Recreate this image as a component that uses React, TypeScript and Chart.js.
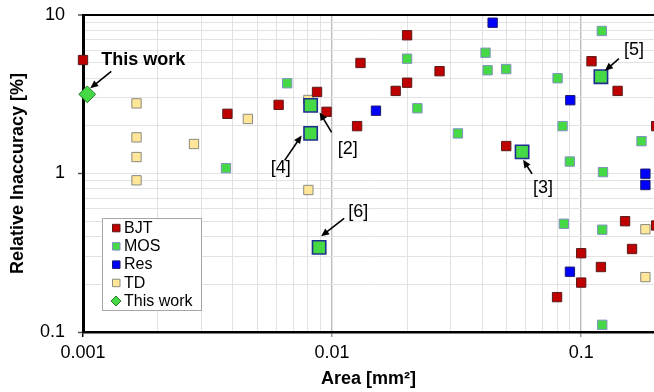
import React, { useEffect, useRef } from "react";
import { Chart, registerables } from "chart.js";

Chart.register(...registerables);

// ---------- data ----------
const bjtArea = [0.001, 0.0038, 0.0061, 0.0087, 0.0095, 0.0126, 0.013, 0.018, 0.02, 0.02, 0.027, 0.05, 0.11, 0.14, 0.2, 0.15, 0.2, 0.1, 0.16, 0.12, 0.1, 0.08];
const bjtInacc = [5.2, 2.38, 2.71, 3.27, 2.45, 1.99, 4.98, 3.32, 7.45, 3.74, 4.42, 1.49, 5.11, 3.32, 1.99, 0.5, 0.47, 0.314, 0.334, 0.257, 0.205, 0.166];

const mosArea = [0.00375, 0.0066, 0.02, 0.022, 0.032, 0.0413, 0.0421, 0.05, 0.0804, 0.0842, 0.09, 0.121, 0.1746, 0.1223, 0.0852, 0.1215, 0.1215];
const mosInacc = [1.08, 3.71, 5.3, 2.58, 1.79, 5.78, 4.48, 4.56, 3.99, 1.99, 1.19, 7.93, 1.6, 1.02, 0.482, 0.442, 0.111];

const refLabels = ["[2]", "[4]", "[6]", "[3]", "[5]"];
const refArea = [0.0082, 0.0082, 0.00887, 0.0579, 0.12];
const refInacc = [2.69, 1.79, 0.342, 1.37, 4.08];

const resArea = [0.015, 0.0441, 0.0904, 0.181, 0.181, 0.0901];
const resInacc = [2.49, 8.94, 2.9, 0.997, 0.846, 0.24];

const tdArea = [0.00164, 0.00164, 0.00164, 0.00164, 0.00279, 0.00459, 0.00803, 0.00803, 0.181, 0.181];
const tdInacc = [2.77, 1.69, 1.27, 0.906, 1.535, 2.21, 2.91, 0.787, 0.445, 0.222];

const thisWorkArea = [0.00104];
const thisWorkInacc = [3.16];

const xTickLabels = [0.001, 0.01, 0.1];
const yTickLabels = [0.1, 1, 10];
const xDecades = [0.001, 0.01, 0.1];
const yDecades = [0.1, 1];
const multipliers = [1, 2, 3, 4, 5, 6, 7, 8, 9];

const legendLabels = ["BJT", "MOS", "Res", "TD", "This work"];

// ---------- styles ----------
const FONT = "'Liberation Sans', Arial, sans-serif";
const GREEN = "#45d945";
const styles: Record<string, any> = {
  BJT: { fill: "#c00000", border: "#5a1a1a", style: "rect", r: 6.6, bw: 1 },
  MOS: { fill: GREEN, border: "#8090c0", style: "rect", r: 6.6, bw: 1 },
  Res: { fill: "#0000ff", border: "#1a1a70", style: "rect", r: 6.6, bw: 1 },
  TD: { fill: "#ffe699", border: "#8a8a80", style: "rect", r: 6.6, bw: 1 },
  Ref: { fill: GREEN, border: "#1f2f90", style: "rect", r: 9.4, bw: 1.6 },
  "This work": { fill: GREEN, border: "#2a7a2a", style: "rectRot", r: 8.4, bw: 1 },
};

const zip = (xs: number[], ys: number[]) => xs.map((x, i) => ({ x, y: ys[i] }));
const isDecade = (v: number) => Math.abs(Math.log10(v) - Math.round(Math.log10(v))) < 1e-6;

// annotation offsets relative to the referenced marker (pixels)
const annotationOffsets: Record<string, any> = {
  "This work": { tip: [3, -6], tail: [24, -23], text: [14, -34], bold: true },
  "[2]": { tip: [9, 7], tail: [21, 27], text: [27, 44] },
  "[4]": { tip: [-9, 2], tail: [-26, 27], text: [-40, 35] },
  "[6]": { tip: [2, -11], tail: [25, -29], text: [29, -35] },
  "[3]": { tip: [1, 8], tail: [10, 22], text: [11, 36] },
  "[5]": { tip: [4, -6], tail: [18, -18], text: [23, -27] },
};

function drawArrow(ctx: CanvasRenderingContext2D, x1: number, y1: number, x2: number, y2: number) {
  const ang = Math.atan2(y2 - y1, x2 - x1);
  const len = 8;
  const hw = 3.6;
  ctx.save();
  ctx.strokeStyle = "#000";
  ctx.fillStyle = "#000";
  ctx.lineWidth = 1.6;
  ctx.beginPath();
  ctx.moveTo(x1, y1);
  ctx.lineTo(x2 - Math.cos(ang) * len * 0.8, y2 - Math.sin(ang) * len * 0.8);
  ctx.stroke();
  ctx.beginPath();
  ctx.moveTo(x2, y2);
  ctx.lineTo(x2 - Math.cos(ang) * len + Math.sin(ang) * hw, y2 - Math.sin(ang) * len - Math.cos(ang) * hw);
  ctx.lineTo(x2 - Math.cos(ang) * len - Math.sin(ang) * hw, y2 - Math.sin(ang) * len + Math.cos(ang) * hw);
  ctx.closePath();
  ctx.fill();
  ctx.restore();
}

const overlayPlugin = {
  id: "overlay",
  afterDatasetsDraw(chart: any) {
    const ctx: CanvasRenderingContext2D = chart.ctx;
    const xs = chart.scales.x;
    const ys = chart.scales.y;
    const ca = chart.chartArea;

    // annotations
    const targets: { label: string; x: number; y: number }[] = [
      { label: "This work", x: thisWorkArea[0], y: thisWorkInacc[0] },
      ...refLabels.map((l, i) => ({ label: l, x: refArea[i], y: refInacc[i] })),
    ];
    targets.forEach((t) => {
      const o = annotationOffsets[t.label];
      const px = xs.getPixelForValue(t.x);
      const py = ys.getPixelForValue(t.y);
      drawArrow(ctx, px + o.tail[0], py + o.tail[1], px + o.tip[0], py + o.tip[1]);
      ctx.save();
      ctx.fillStyle = "#000";
      ctx.textAlign = "left";
      ctx.textBaseline = "middle";
      ctx.font = o.bold ? `bold 18px ${FONT}` : `18px ${FONT}`;
      ctx.fillText(t.label, px + o.text[0], py + o.text[1]);
      ctx.restore();
    });

    // legend
    const lx = ca.left + 19;
    const ly = ca.top + 203;
    const lw = 99;
    const lh = 92;
    ctx.save();
    ctx.fillStyle = "#fff";
    ctx.fillRect(lx, ly, lw, lh);
    ctx.strokeStyle = "#a6a6a6";
    ctx.lineWidth = 1;
    ctx.strokeRect(lx + 0.5, ly + 0.5, lw, lh);
    legendLabels.forEach((lab, i) => {
      const s = styles[lab];
      const cy = ly + 9.8 + i * 18.3;
      const cx = lx + 14;
      ctx.fillStyle = s.fill;
      ctx.strokeStyle = s.border;
      ctx.lineWidth = 1;
      ctx.beginPath();
      if (s.style === "rectRot") {
        ctx.moveTo(cx, cy - 5);
        ctx.lineTo(cx + 5, cy);
        ctx.lineTo(cx, cy + 5);
        ctx.lineTo(cx - 5, cy);
        ctx.closePath();
      } else {
        ctx.rect(cx - 3.5, cy - 3.5, 7.5, 7.5);
      }
      ctx.fill();
      ctx.stroke();
      ctx.fillStyle = "#000";
      ctx.font = `16px ${FONT}`;
      ctx.textAlign = "left";
      ctx.textBaseline = "middle";
      ctx.fillText(lab, lx + 22, cy + 0.5);
    });
    ctx.restore();
  },
};

function ds(label: string, key: string, xs: number[], ys: number[], order: number) {
  const s = styles[key];
  return {
    label,
    data: zip(xs, ys),
    pointStyle: s.style,
    pointRadius: s.r,
    pointHoverRadius: s.r,
    backgroundColor: s.fill,
    borderColor: s.border,
    borderWidth: s.bw,
    showLine: false,
    clip: false,
    order,
  };
}

export default function App() {
  const ref = useRef<HTMLCanvasElement | null>(null);
  useEffect(() => {
    if (!ref.current) return;
    Chart.defaults.font.family = FONT;
    const xGrid = xDecades.flatMap((d) => multipliers.map((m) => +(d * m).toPrecision(6))).filter((v) => v <= 0.196);
    const yGrid = [...yDecades.flatMap((d) => multipliers.map((m) => +(d * m).toPrecision(6))), 10];
    const chart = new Chart(ref.current, {
      type: "scatter",
      data: {
        datasets: [
          ds("This work", "This work", thisWorkArea, thisWorkInacc, 0),
          ds("MOS refs", "Ref", refArea, refInacc, 1),
          ds("BJT", "BJT", bjtArea, bjtInacc, 2),
          ds("MOS", "MOS", mosArea, mosInacc, 3),
          ds("Res", "Res", resArea, resInacc, 4),
          ds("TD", "TD", tdArea, tdInacc, 5),
        ] as any,
      },
      options: {
        responsive: false,
        animation: false,
        devicePixelRatio: 1,
        layout: { autoPadding: false, padding: { top: 15, right: 0, bottom: 0, left: 0 } },
        plugins: { legend: { display: false }, tooltip: { enabled: false } },
        scales: {
          x: {
            type: "logarithmic",
            position: "bottom",
            min: 0.001,
            max: 0.196,
            afterBuildTicks: (scale: any) => {
              scale.ticks = xGrid.map((v) => ({ value: v, major: isDecade(v) }));
            },
            afterFit: (scale: any) => {
              scale.height = 60;
              scale.paddingLeft = 0;
              scale.paddingRight = 0;
            },
            ticks: {
              autoSkip: false,
              maxRotation: 0,
              minRotation: 0,
              padding: 5,
              color: "#000",
              font: { size: 18, family: FONT },
              callback: (value: any) => (xTickLabels.some((t) => Math.abs(t - value) < 1e-9) ? String(value) : ""),
            },
            grid: {
              color: (c: any) => {
                const v = c.tick?.value;
                if (v === undefined) return "#e2e2e2";
                if (Math.abs(v - 0.001) < 1e-9) return "rgba(0,0,0,0)";
                return isDecade(v) ? "#bdbdbd" : "#e2e2e2";
              },
              lineWidth: (c: any) => (c.tick && isDecade(c.tick.value) ? 1.4 : 1),
              tickColor: (c: any) => {
                const v = c.tick?.value;
                if (v === undefined || !isDecade(v)) return "rgba(0,0,0,0)";
                return Math.abs(v - 0.001) < 1e-9 ? "#000" : "#999";
              },
              tickLength: 5,
              tickWidth: 1.5,
            },
            border: { display: true, color: "#000", width: 2.5 },
            title: {
              display: true,
              text: "Area [mm²]",
              color: "#000",
              font: { size: 18, weight: "bold", family: FONT },
              padding: { top: 0, bottom: 2 },
            },
          },
          y: {
            type: "logarithmic",
            position: "left",
            min: 0.1,
            max: 10,
            afterBuildTicks: (scale: any) => {
              scale.ticks = yGrid.map((v) => ({ value: v, major: isDecade(v) }));
            },
            afterFit: (scale: any) => {
              scale.width = 83;
              scale.paddingTop = 0;
              scale.paddingBottom = 0;
            },
            ticks: {
              autoSkip: false,
              padding: 13,
              color: "#000",
              font: { size: 18, family: FONT },
              callback: (value: any) => (yTickLabels.some((t) => Math.abs(t - value) < 1e-9) ? String(value) : ""),
            },
            grid: {
              color: (c: any) => {
                const v = c.tick?.value;
                if (v === undefined) return "#e2e2e2";
                if (Math.abs(v - 10) < 1e-9) return "#000";
                if (Math.abs(v - 0.1) < 1e-9) return "rgba(0,0,0,0)";
                return "#e2e2e2";
              },
              lineWidth: (c: any) => (c.tick && Math.abs(c.tick.value - 10) < 1e-9 ? 2 : 1),
              tickColor: (c: any) => (c.tick && isDecade(c.tick.value) ? "#555" : "rgba(0,0,0,0)"),
              tickLength: 5,
              tickWidth: 1.5,
            },
            border: { display: true, color: "#000", width: 3 },
            title: {
              display: true,
              text: "Relative Inaccuracy [%]",
              color: "#000",
              font: { size: 18, weight: "bold", family: FONT },
              padding: { top: 7, bottom: 0 },
            },
          },
        },
      } as any,
      plugins: [overlayPlugin],
    });
    return () => chart.destroy();
  }, []);

  return (
    <div style={{ position: "absolute", left: 0, top: 0, width: 654, height: 392, background: "#fff" }}>
      <canvas ref={ref} width={654} height={392} style={{ display: "block" }} />
    </div>
  );
}
